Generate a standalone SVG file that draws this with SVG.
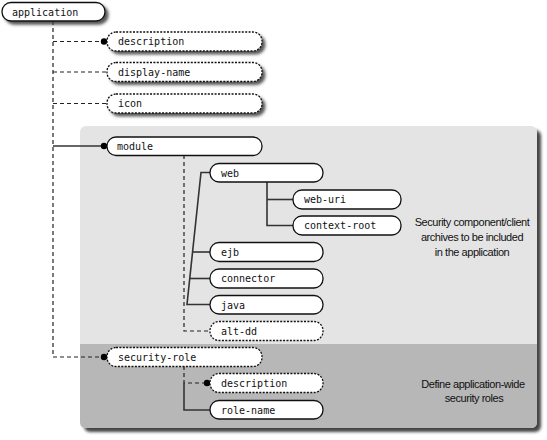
<svg xmlns="http://www.w3.org/2000/svg" width="547" height="440" viewBox="0 0 547 440">
<defs>
<filter id="sh" x="-10%" y="-30%" width="130%" height="180%">
<feDropShadow dx="3" dy="3" stdDeviation="1.4" flood-color="#3a3a3a" flood-opacity="0.85"/>
</filter>
<filter id="psh" x="-5%" y="-5%" width="110%" height="110%">
<feDropShadow dx="4" dy="4" stdDeviation="1.6" flood-color="#333" flood-opacity="0.9"/>
</filter>
</defs>
<style>
.box{fill:#fff;stroke:#111;stroke-width:1.3}
.opt{stroke-dasharray:2 1.4}
.t{font-family:"DejaVu Sans Mono",monospace;font-size:10px;fill:#111}
.n{font-family:"Liberation Sans",sans-serif;font-size:11px;letter-spacing:-0.45px;fill:#111;text-anchor:middle}
.sol{fill:none;stroke:#333;stroke-width:1.6}
.dsh{fill:none;stroke:#222;stroke-width:1.2;stroke-dasharray:4 3}
.dot{fill:#000}
</style>
<rect width="547" height="440" fill="#fff"/>
<g id="panels">
<rect x="80" y="126" width="457" height="302" rx="6" fill="#e4e4e4" filter="url(#psh)"/>
<path d="M80,344 H537 V422 Q537,428 531,428 H86 Q80,428 80,422 Z" fill="#b7b7b7"/>
<text class="n" x="472" y="226">Security component/client</text>
<text class="n" x="472" y="241">archives to be included</text>
<text class="n" x="472" y="256">in the application</text>
<text class="n" x="473" y="388">Define application-wide</text>
<text class="n" x="474" y="402">security roles</text>
</g>
<g id="connectors">
<path class="dsh" d="M53,21 V357 H104"/>
<path class="dsh" d="M53,41.5 H104"/>
<path class="dsh" d="M53,72 H107"/>
<path class="dsh" d="M53,103.5 H107"/>
<path class="sol" d="M53,146 H104"/>
<path class="dsh" d="M184,155 V331 H210"/>
<path class="sol" d="M210,172.5 H201 L187,304.5 H210"/>
<path class="sol" d="M192.5,252 H210"/>
<path class="sol" d="M189.8,278.5 H210"/>
<path class="sol" d="M267,182 V225.5 H293"/>
<path class="sol" d="M267,199.5 H293"/>
<path class="dsh" d="M184,366 V383 H207"/>
<path class="sol" d="M184,383 V410 H210"/>
<circle class="dot" cx="104" cy="41.5" r="3.2"/>
<circle class="dot" cx="104" cy="146" r="3.2"/>
<circle class="dot" cx="104" cy="357" r="3.2"/>
<circle class="dot" cx="207" cy="383" r="3.2"/>
</g>
<g id="application"><rect class="box" x="2" y="2.5" width="103" height="18.5" rx="9" filter="url(#sh)"/><text class="t" x="12" y="15.5">application</text></g>
<g id="description"><rect class="box opt" x="107" y="32" width="155" height="19" rx="9" filter="url(#sh)"/><text class="t" x="118" y="45">description</text></g>
<g id="display-name"><rect class="box opt" x="107" y="62.5" width="155" height="19" rx="9" filter="url(#sh)"/><text class="t" x="118" y="75.5">display-name</text></g>
<g id="icon"><rect class="box opt" x="107" y="94" width="155" height="19" rx="9" filter="url(#sh)"/><text class="t" x="118" y="107">icon</text></g>
<g id="module"><rect class="box" x="107" y="137" width="155" height="18.5" rx="9"/><text class="t" x="117" y="150">module</text></g>
<g id="web"><rect class="box" x="210" y="163.5" width="113" height="18.5" rx="9"/><text class="t" x="221" y="176.5">web</text></g>
<g id="web-uri"><rect class="box" x="293" y="190" width="108" height="19" rx="9"/><text class="t" x="304" y="203">web-uri</text></g>
<g id="context-root"><rect class="box" x="293" y="216" width="108" height="19" rx="9"/><text class="t" x="304" y="229">context-root</text></g>
<g id="ejb"><rect class="box" x="210" y="242.5" width="113" height="19" rx="9"/><text class="t" x="221" y="255.5">ejb</text></g>
<g id="connector"><rect class="box" x="210" y="269" width="113" height="19" rx="9"/><text class="t" x="221" y="282">connector</text></g>
<g id="java"><rect class="box" x="210" y="295.5" width="113" height="18.5" rx="9"/><text class="t" x="221" y="308.5">java</text></g>
<g id="alt-dd"><rect class="box opt" x="210" y="321.5" width="113" height="19" rx="9"/><text class="t" x="221" y="334.5">alt-dd</text></g>
<g id="security-role"><rect class="box opt" x="107" y="347.5" width="155" height="19" rx="9"/><text class="t" x="118" y="360.5">security-role</text></g>
<g id="description-2"><rect class="box opt" x="210" y="373.5" width="113" height="19" rx="9"/><text class="t" x="221" y="386.5">description</text></g>
<g id="role-name"><rect class="box" x="210" y="400.5" width="113" height="18.5" rx="9"/><text class="t" x="221" y="413.5">role-name</text></g>
</svg>
